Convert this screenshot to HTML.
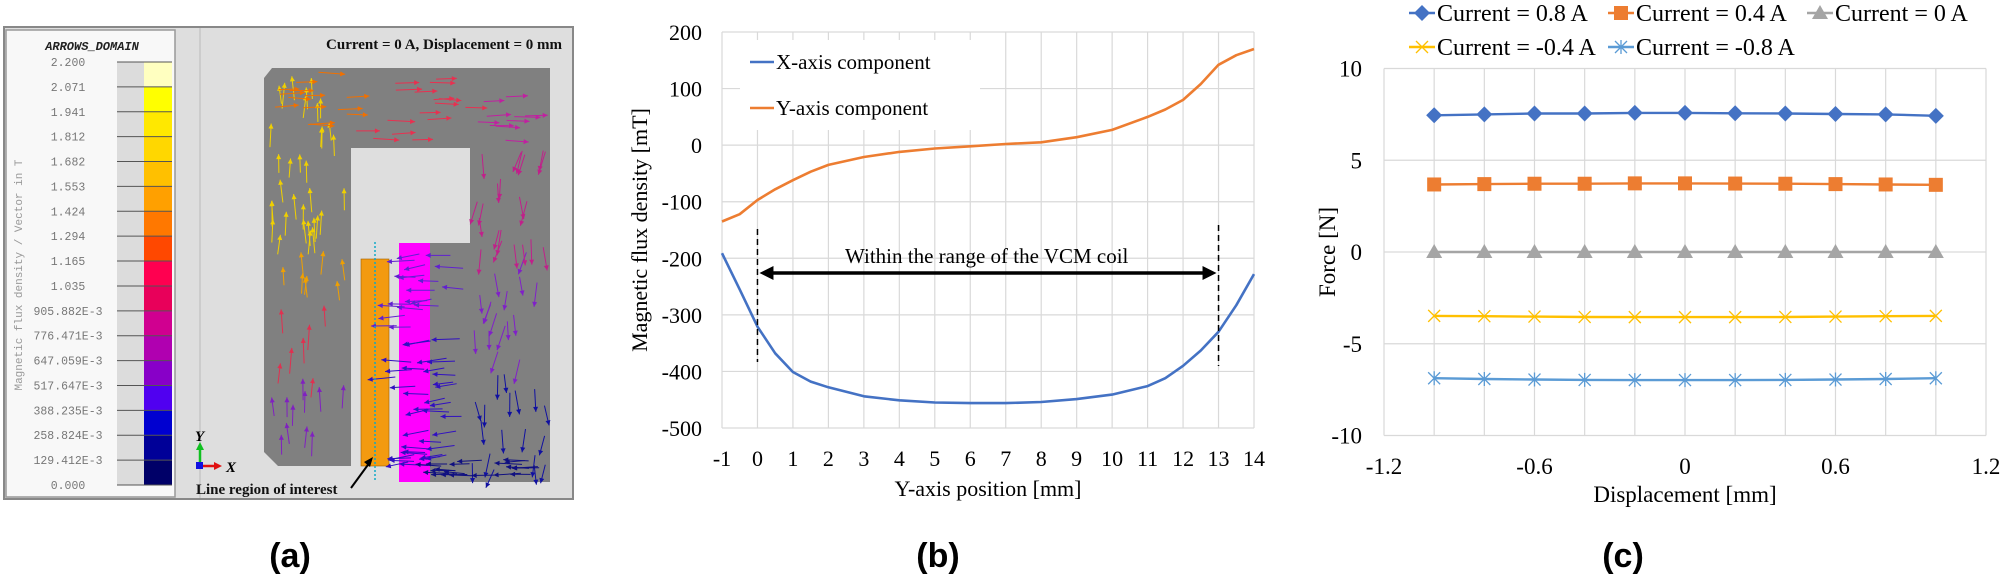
<!DOCTYPE html>
<html><head><meta charset="utf-8">
<style>
html,body{margin:0;padding:0;background:#fff;}
body{width:2005px;height:574px;overflow:hidden;}
svg{display:block;}
.serif{font-family:"Liberation Serif",serif;}
.mono{font-family:"Liberation Mono",monospace;}
.sans{font-family:"Liberation Sans",sans-serif;}
</style></head>
<body>
<svg id="fig" width="2005" height="574" viewBox="0 0 2005 574" xmlns="http://www.w3.org/2000/svg">
  <!-- Panel (a) -->
  <g id="panelA">
    <rect x="4" y="27" width="569" height="472" fill="#dedede" stroke="#888" stroke-width="2"/>
    <rect x="6" y="30" width="169" height="467" fill="#f8f8f8" stroke="#999" stroke-width="1.5"/>
    <line x1="200" y1="28" x2="200" y2="498" stroke="#bbb" stroke-width="1"/>
    <text x="92" y="50" class="mono" font-size="12" font-weight="bold" font-style="italic" text-anchor="middle" fill="#222">ARROWS_DOMAIN</text>
    <text transform="translate(22,275) rotate(-90)" class="mono" font-size="11" fill="#999" text-anchor="middle">Magnetic flux density / Vector in T</text>
    <g id="cbar"></g>
    <text x="562" y="49" class="serif" font-size="15" font-weight="bold" text-anchor="end" fill="#111">Current = 0 A, Displacement = 0 mm</text>
    <!-- core -->
    <path d="M272,68 L550,68 L550,482 L430,482 L430,243 L470,243 L470,148 L351,148 L351,466 L278,466 L264,452 L264,78 Z" fill="#808080"/>
    <rect x="399" y="243" width="31" height="239" fill="#ff00ff"/>
    <rect x="361" y="259" width="28" height="207" fill="#f39a10" stroke="#a06000" stroke-width="0.6"/>
    <g id="arrows"></g>
    <line x1="375" y1="242" x2="375" y2="482" stroke="#10a8c8" stroke-width="1.5" stroke-dasharray="2,2"/>
    <!-- triad -->
    <line x1="200" y1="466" x2="200" y2="448" stroke="#10c020" stroke-width="2.5"/>
    <polygon points="196,450 204,450 200,442" fill="#10c020"/>
    <line x1="200" y1="466" x2="216" y2="466" stroke="#e01010" stroke-width="2.5"/>
    <polygon points="214,462 214,470 222,466" fill="#e01010"/>
    <rect x="196" y="462" width="7" height="7" fill="#1010e0"/>
    <text x="195" y="441" class="serif" font-size="15" font-weight="bold" font-style="italic">Y</text>
    <text x="226" y="472" class="serif" font-size="15" font-weight="bold" font-style="italic">X</text>
    <text x="196" y="494" class="serif" font-size="15" font-weight="bold" fill="#111">Line region of interest</text>
    <line x1="351" y1="488" x2="370" y2="462" stroke="#000" stroke-width="2"/>
    <polygon points="373,457 364,462 370,467" fill="#000"/>
    <text x="290" y="567" class="sans" font-size="34" font-weight="bold" text-anchor="middle">(a)</text>
  </g>

  <!-- Panel (b) -->
  <g id="panelB">
    <g id="bGrid"></g>
    <g id="bMarks"></g>
    <text transform="translate(647,230) rotate(-90)" class="serif" font-size="22" text-anchor="middle">Magnetic flux density [mT]</text>
    <text x="988" y="496" class="serif" font-size="22" text-anchor="middle">Y-axis position [mm]</text>
    <rect x="740" y="40" width="240" height="90" fill="#fff"/>
    <line x1="750" y1="62" x2="774" y2="62" stroke="#4472c4" stroke-width="2.5"/>
    <text x="776" y="69" class="serif" font-size="21">X-axis component</text>
    <line x1="750" y1="108" x2="774" y2="108" stroke="#ed7d31" stroke-width="2.5"/>
    <text x="776" y="115" class="serif" font-size="21">Y-axis component</text>
    <text x="938" y="567" class="sans" font-size="34" font-weight="bold" text-anchor="middle">(b)</text>
  </g>

  <!-- Panel (c) -->
  <g id="panelC">
    <g id="cGrid"></g>
    <g id="cMarks"></g>
    <g id="cLegend"></g>
    <text transform="translate(1335,252) rotate(-90)" class="serif" font-size="23" text-anchor="middle">Force [N]</text>
    <text x="1685" y="502" class="serif" font-size="23" text-anchor="middle">Displacement [mm]</text>
    <text x="1623" y="567" class="sans" font-size="34" font-weight="bold" text-anchor="middle">(c)</text>
  </g>
</svg>
<script>
var NS = 'http://www.w3.org/2000/svg';
function mk(tag, attrs, parent){var e=document.createElementNS(NS,tag);for(var k in attrs)e.setAttribute(k,attrs[k]);parent.appendChild(e);return e;}

// ---------- Panel (b) data ----------
var bXTicks = [-1,0,1,2,3,4,5,6,7,8,9,10,11,12,13,14];
var bYTicks = [200,100,0,-100,-200,-300,-400,-500];
var bPos = [-1,-0.5,0,0.5,1,1.5,2,3,4,5,6,7,8,9,10,11,11.5,12,12.5,13,13.5,14];
var bXComp = [-191,-255,-321,-368,-401,-418,-428,-444,-451,-455,-456,-456,-454,-449,-441,-426,-412,-390,-363,-330,-283,-228];
var bYComp = [-135,-122,-97,-78,-62,-47,-35,-21,-12,-6,-2,2,5,14,27,50,63,80,108,142,159,170];

function bx(v){return 722 + (v+1)*(532/15);}
function by(v){return 32 + (200-v)*(396/700);}

(function(){
  var g=document.getElementById('bGrid');
  bXTicks.forEach(function(t){
    var l=mk('line',{x1:bx(t),x2:bx(t),y1:by(200),y2:by(-500),stroke:'#d9d9d9','stroke-width':1.2},g);
    
    
    var tx=mk('text',{x:bx(t),y:466,'text-anchor':'middle','font-size':22,'class':'serif'},g);
    tx.textContent=t;
    
    
  });
  bYTicks.forEach(function(t){
    var l=mk('line',{x1:bx(-1),x2:bx(14),y1:by(t),y2:by(t),stroke:'#d9d9d9','stroke-width':1.2},g);
    
    
    var tx=mk('text',{x:702,y:by(t)+8,'text-anchor':'end','font-size':22,'class':'serif'},g);
    tx.textContent=t;
    
    
  });
  var m=document.getElementById('bMarks');
  function path(vals,col,name){
    var d='';bPos.forEach(function(p,i){d+=(i?'L':'M')+bx(p).toFixed(1)+','+by(vals[i]).toFixed(1);});
    var pe=mk('path',{d:d,fill:'none',stroke:col,'stroke-width':2.6,'stroke-linejoin':'round'},m);
    
    
  }
  path(bXComp,'#4472c4','x-component-line');
  path(bYComp,'#ed7d31','y-component-line');
  var d1=mk('line',{x1:bx(0),x2:bx(0),y1:229,y2:362,stroke:'#000','stroke-width':1.5,'stroke-dasharray':'6,4'},m);
  
  
  var d2=mk('line',{x1:bx(13),x2:bx(13),y1:225,y2:366,stroke:'#000','stroke-width':1.5,'stroke-dasharray':'6,4'},m);
  
  
  var ar=mk('line',{x1:bx(0)+12,x2:bx(13)-12,y1:273,y2:273,stroke:'#000','stroke-width':3.5},m);
  
  
  mk('polygon',{points:(bx(0)+2)+',273 '+(bx(0)+16)+',266 '+(bx(0)+16)+',280',fill:'#000'},m);
  mk('polygon',{points:(bx(13)-2)+',273 '+(bx(13)-16)+',266 '+(bx(13)-16)+',280',fill:'#000'},m);
  var t=mk('text',{x:845,y:263,'font-size':21,'class':'serif'},m);
  t.textContent='Within the range of the VCM coil';
  
  
})();

// ---------- Panel (c) data ----------
var cDisp = [-1,-0.8,-0.6,-0.4,-0.2,0,0.2,0.4,0.6,0.8,1];
var cXTickLabels = ['-1.2','-0.6','0','0.6','1.2'];
var cXTickVals = [-1.2,-0.6,0,0.6,1.2];
var cYTicks = [10,5,0,-5,-10];
var cI08 = [7.45,7.5,7.55,7.55,7.58,7.58,7.56,7.55,7.52,7.5,7.42];
var cI04 = [3.68,3.7,3.72,3.72,3.74,3.74,3.73,3.72,3.7,3.68,3.66];
var cI0 = [0,0,0,0,0,0,0,0,0,0,0];
var cIm04 = [-3.48,-3.5,-3.52,-3.54,-3.55,-3.55,-3.55,-3.54,-3.52,-3.5,-3.48];
var cIm08 = [-6.88,-6.92,-6.95,-6.97,-6.98,-6.98,-6.98,-6.97,-6.95,-6.92,-6.88];
var cNames = ['Current = 0.8 A','Current = 0.4 A','Current = 0 A','Current = -0.4 A','Current = -0.8 A'];

function cx(v){return 1685 + v*(301/1.2);}
function cy(v){return 252 - v*18.35;}

(function(){
  var g=document.getElementById('cGrid');
  for(var i=-6;i<=6;i++){
    var v=i*0.2;
    var l=mk('line',{x1:cx(v),x2:cx(v),y1:cy(10),y2:cy(-10),stroke:'#d9d9d9','stroke-width':1.2},g);
    
    
  }
  cXTickVals.forEach(function(v,i){
    var tx=mk('text',{x:cx(v),y:474,'text-anchor':'middle','font-size':23,'class':'serif'},g);
    tx.textContent=cXTickLabels[i];
    
    
  });
  cYTicks.forEach(function(t){
    var l=mk('line',{x1:cx(-1.2),x2:cx(1.2),y1:cy(t),y2:cy(t),stroke:'#d9d9d9','stroke-width':1.2},g);
    
    
    var tx=mk('text',{x:1362,y:cy(t)+8,'text-anchor':'end','font-size':23,'class':'serif'},g);
    tx.textContent=t;
    
    
  });
  var m=document.getElementById('cMarks');
  var series=[cI08,cI04,cI0,cIm04,cIm08];
  var cols=['#4472c4','#ed7d31','#a5a5a5','#ffc000','#5b9bd5'];
  var shapes=['diamond','square','triangle','x','star'];
  function marker(shape,x,y,col,parent){
    var e;
    if(shape==='diamond') e=mk('polygon',{points:x+','+(y-8)+' '+(x+8)+','+y+' '+x+','+(y+8)+' '+(x-8)+','+y,fill:col},parent);
    else if(shape==='square') e=mk('rect',{x:x-7,y:y-7,width:14,height:14,fill:col},parent);
    else if(shape==='triangle') e=mk('polygon',{points:x+','+(y-8)+' '+(x+8)+','+(y+6)+' '+(x-8)+','+(y+6),fill:col},parent);
    else {
      e=mk('path',{d:'M'+(x-6)+','+(y-6)+'L'+(x+6)+','+(y+6)+'M'+(x-6)+','+(y+6)+'L'+(x+6)+','+(y-6)+(shape==='star'?'M'+x+','+(y-7)+'L'+x+','+(y+7):''),stroke:col,'stroke-width':1.3,fill:'none'},parent);
    }
    return e;
  }
  series.forEach(function(s,k){
    var d='';cDisp.forEach(function(p,i){d+=(i?'L':'M')+cx(p).toFixed(1)+','+cy(s[i]).toFixed(1);});
    var pe=mk('path',{d:d,fill:'none',stroke:cols[k],'stroke-width':2.4},m);
    
    
    cDisp.forEach(function(p,i){
      var mm=marker(shapes[k],cx(p),cy(s[i]),cols[k],m);
      
      
    });
  });
  // legend
  var lg=document.getElementById('cLegend');
  var lpos=[[1409,13],[1608,13],[1807,13],[1409,47],[1608,47]];
  cNames.forEach(function(n,k){
    var x=lpos[k][0], y=lpos[k][1];
    var sw=mk('line',{x1:x,x2:x+26,y1:y,y2:y,stroke:cols[k],'stroke-width':2.4},lg);
    
    
    marker(shapes[k],x+13,y,cols[k],lg);
    var t=mk('text',{x:x+28,y:y+8,'font-size':24,'class':'serif'},lg);
    t.textContent=n;
    
    
  });
})();

// ---------- Panel (a) colorbar ----------
var cbLabels=['2.200','2.071','1.941','1.812','1.682','1.553','1.424','1.294','1.165','1.035','905.882E-3','776.471E-3','647.059E-3','517.647E-3','388.235E-3','258.824E-3','129.412E-3','0.000'];
var cbColors=['#ffffc0','#ffff00','#ffe800','#ffd700','#ffc000','#ffa000','#ff7800','#ff4800','#ff0050','#e8005a','#d00090','#b000b0','#8800c8','#5000f0','#0000d0','#000098','#000068'];
(function(){
  var g=document.getElementById('cbar');
  var top=62, step=(485-62)/17;
  for(var i=0;i<17;i++){
    mk('rect',{x:117,y:top+i*step,width:27,height:step,fill:'#dcdcdc'},g);
    var r=mk('rect',{x:144,y:top+i*step,width:28,height:step,fill:cbColors[i]},g);
    
    
  }
  cbLabels.forEach(function(l,i){
    mk('line',{x1:117,x2:172,y1:top+i*step,y2:top+i*step,stroke:'#555','stroke-width':1},g);
    var t=mk('text',{x:68,y:top+i*step+4,'text-anchor':'middle','font-size':11.5,'class':'mono',fill:'#777'},g);
    t.textContent=l;
    
    
  });
})();

// ---------- Panel (a) flux arrows (decorative) ----------
(function(){
  var g=document.getElementById('arrows');
  function arrow(x,y,dx,dy,col){
    var L=Math.sqrt(dx*dx+dy*dy)||1, ux=dx/L, uy=dy/L;
    var x2=x+dx, y2=y+dy;
    mk('line',{x1:x,y1:y,x2:x2,y2:y2,stroke:col,'stroke-width':1},g);
    mk('polygon',{points:x2+','+y2+' '+(x2-ux*5-uy*2.5)+','+(y2-uy*5+ux*2.5)+' '+(x2-ux*5+uy*2.5)+','+(y2-uy*5-ux*2.5),fill:col},g);
  }
  var seed=7;function rnd(){seed=(seed*9301+49297)%233280;return seed/233280;}
  // left leg: upward, yellow top -> red bottom
  for(var i=0;i<60;i++){
    var x=268+rnd()*80, y=90+rnd()*370;
    var c=y<260?'#f0d000':(y<320?'#f0a000':(y<400?'#e03050':'#8020c0'));
    arrow(x,y,(rnd()-0.5)*6,-18-rnd()*8,c);
  }
  // top: rightward
  for(var i=0;i<40;i++){
    var x=275+rnd()*260, y=72+rnd()*72;
    var c=x<350?'#f07000':(x<470?'#e83050':'#c020a0');
    arrow(x,y,20+rnd()*8,(rnd()-0.5)*4,c);
  }
  // right leg: downward
  for(var i=0;i<55;i++){
    var x=472+rnd()*75, y=150+rnd()*320;
    var c=y<250?'#c0208a':(y<360?'#8020c8':'#1010a0');
    arrow(x,y,(rnd()-0.6)*14,18+rnd()*8,c);
  }
  // gap region: leftward
  for(var i=0;i<55;i++){
    var x=395+rnd()*70, y=250+rnd()*220;
    var c=y<330?'#6020d0':'#3010c0';
    arrow(x,y,-20-rnd()*10,(rnd()-0.3)*8,c);
  }
  // bottom: leftward
  for(var i=0;i<20;i++){
    var x=440+rnd()*100, y=460+rnd()*18;
    arrow(x,y,-20-rnd()*8,(rnd()-0.5)*4,'#101080');
  }
})();
</script>
</body></html>
